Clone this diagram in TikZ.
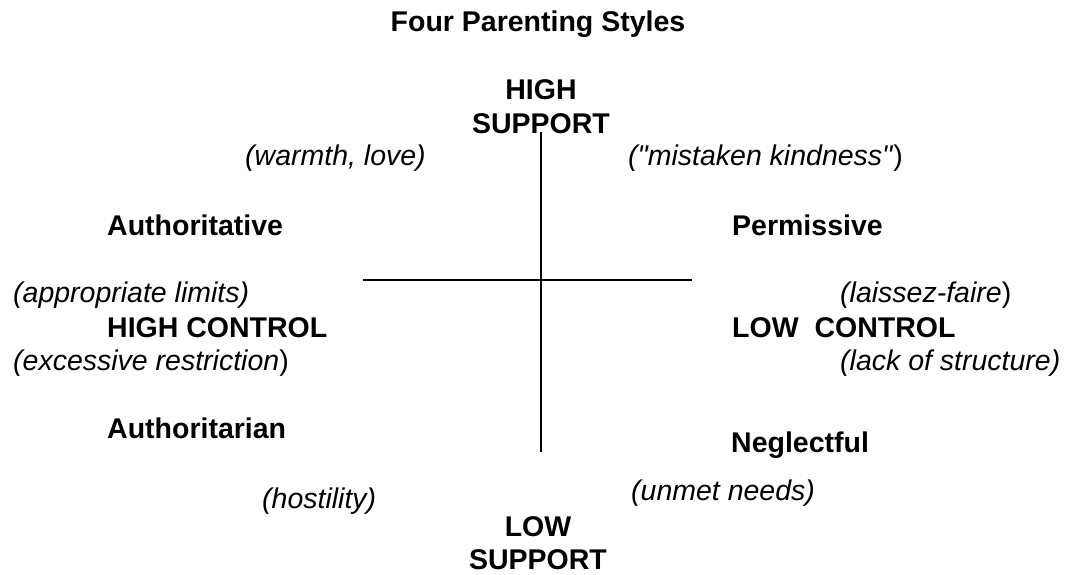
\documentclass[tikz,border=0pt]{standalone}
\usepackage{fontspec}
\newfontfamily\arialish{Liberation Sans}
\newcommand{\txtsize}{\fontsize{28.5}{33}\selectfont}
\tikzset{
  head/.style={font=\arialish\txtsize\bfseries,anchor=base,inner sep=0pt},
  quad/.style={font=\arialish\txtsize\bfseries,anchor=base west,inner sep=0pt},
  note/.style={font=\arialish\txtsize\itshape,anchor=base west,inner sep=0pt},
  axis/.style={line width=1.5pt}
}
\begin{document}
\begin{tikzpicture}[x=1pt,y=-1pt]
\useasboundingbox (0,0) rectangle (1070,575);

% Title
\node[head] (title) at (538,32) {Four Parenting Styles};

% Define axis ends
\coordinate (O) at (541,280);
\coordinate (top) at (541,132);
\coordinate (bot) at (541,452);
\coordinate (left) at (363,280);
\coordinate (right) at (692,280);

% Construct the two axes
\draw[axis] (top) -- (bot);
\draw[axis] (left) -- (right);

% Support labels
\node[head] (hisup1) at (541,100) {HIGH};
\node[head] (hisup2) at (541,133) {SUPPORT};
\node[head] (losup1) at (538,536) {LOW};
\node[head] (losup2) at (538,569) {SUPPORT};

% Control labels
\node[quad] (hicon) at (107,337) {HIGH CONTROL};
\node[quad] (locon) at (732,337) {LOW\ \ CONTROL};

% Four styles
\node[quad] (auth) at (107,235) {Authoritative};
\node[quad] (perm) at (732,235) {Permissive};
\node[quad] (autr) at (107,438) {Authoritarian};
\node[quad] (negl) at (731,452) {Neglectful};

% Notes
\node[note] (warm) at (245,165) {(warmth, love)};
\node[note] (kind) at (628,165) {("mistaken kindness"\/{\upshape)}};
\node[note] (limit) at (13,302) {(appropriate limits)};
\node[note] (restr) at (13,370) {(excessive restriction\/{\upshape)}};
\node[note] (laiss) at (840,302) {(laissez-faire\/{\upshape)}};
\node[note] (struct) at (840,370) {(lack of structure)};
\node[note] (host) at (262,508) {(hostility)};
\node[note] (unmet) at (631,500) {(unmet needs)};
\end{tikzpicture}
\end{document}
